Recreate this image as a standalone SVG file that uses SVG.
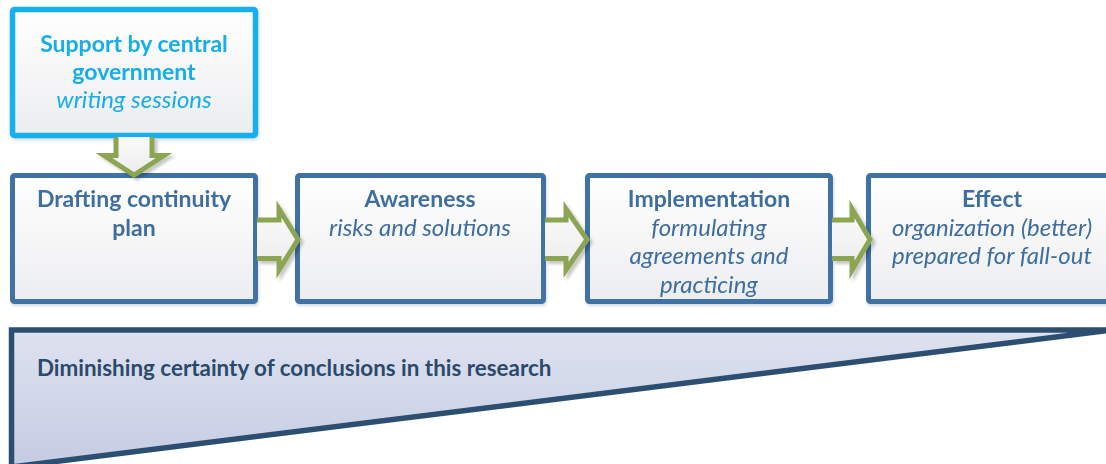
<svg xmlns="http://www.w3.org/2000/svg" width="1106" height="464" viewBox="0 0 1106 464">
<style>
.box{fill:url(#boxfill);stroke:#3F72A6;stroke-width:5}
.top{fill:url(#boxfill);stroke:#12B0EE;stroke-width:5.5}
.t{font-family:Lato,"Liberation Sans",sans-serif;font-size:23px;text-anchor:middle;fill:#3E6E9F}
.b{font-weight:bold}
.i{font-style:italic;font-size:24px}
.cy{fill:#14AEEA}
.afill{fill:url(#arrfill);stroke:none}
.astroke{fill:none;stroke:#8CA553;stroke-width:5;stroke-linejoin:miter}
.btxt{font-family:Lato,"Liberation Sans",sans-serif;font-size:22.4px;font-weight:bold;fill:#2B4A6B}
</style>
<defs>
<linearGradient id="boxfill" x1="0" y1="0" x2="0" y2="1">
<stop offset="0" stop-color="#FFFFFF"/>
<stop offset="1" stop-color="#ECEDEF"/>
</linearGradient>
<linearGradient id="arrfill" x1="0" y1="0" x2="0" y2="1">
<stop offset="0" stop-color="#FAFAFA"/>
<stop offset="1" stop-color="#ECECEC"/>
</linearGradient>
<linearGradient id="trifill" x1="0" y1="0" x2="0" y2="1">
<stop offset="0" stop-color="#DEE2F0"/>
<stop offset="1" stop-color="#C5CCE3"/>
</linearGradient>
<filter id="sh" x="-20%" y="-20%" width="150%" height="150%">
<feDropShadow dx="3" dy="3" stdDeviation="1.5" flood-color="#000" flood-opacity="0.22"/>
</filter>
<filter id="bsh" x="-5%" y="-5%" width="110%" height="115%">
<feDropShadow dx="1" dy="2" stdDeviation="1.5" flood-color="#000" flood-opacity="0.15"/>
</filter>
</defs>

<g id="certainty">
<path d="M11.5,330 H1112 L11.5,467 Z" fill="url(#trifill)" stroke="#2C4E70" stroke-width="5.5" stroke-linejoin="miter"/>
<text class="btxt" x="37" y="376">Diminishing certainty of conclusions in this research</text>
</g>

<g id="support" filter="url(#bsh)">
<rect class="top" x="12.5" y="9.5" width="243" height="126" rx="2"/>
<text class="t b cy" x="134" y="52">Support by central</text>
<text class="t b cy" x="134" y="80">government</text>
<text class="t i cy" x="134" y="108">writing sessions</text>
</g>

<g id="drafting" filter="url(#bsh)">
<rect class="box" x="12.5" y="175.5" width="243" height="126" rx="2"/>
<text class="t b" x="134" y="207">Drafting continuity</text>
<text class="t b" x="134" y="236">plan</text>
</g>

<g id="awareness" filter="url(#bsh)">
<rect class="box" x="297.5" y="175.5" width="246" height="126" rx="2"/>
<text class="t b" x="420" y="207">Awareness</text>
<text class="t i" x="420" y="236">risks and solutions</text>
</g>

<g id="implementation" filter="url(#bsh)">
<rect class="box" x="587.5" y="175.5" width="243" height="126" rx="2"/>
<text class="t b" x="709" y="207">Implementation</text>
<text class="t i" x="709" y="236">formulating</text>
<text class="t i" x="709" y="264">agreements and</text>
<text class="t i" x="709" y="293">practicing</text>
</g>

<g id="effect" filter="url(#bsh)">
<rect class="box" x="868.5" y="175.5" width="260" height="126" rx="2"/>
<text class="t b" x="992" y="207">Effect</text>
<text class="t i" x="992" y="236">organization (better)</text>
<text class="t i" x="992" y="264">prepared for fall-out</text>
</g>

<g id="connectors">
<g filter="url(#sh)">
<path class="afill" d="M116,137 V155.5 H104 L134,175 L164,155.5 H152 V137 Z"/>
<path class="astroke" d="M116,137 V155.5 H104 L134,175 L164,155.5 H152 V137"/>
</g>
<g filter="url(#sh)">
<path class="afill" d="M257,220 H279 V209 L298,239.5 L279,270 V258.5 H257 Z"/>
<path class="astroke" d="M257,220 H279 V209 L298,239.5 L279,270 V258.5 H257"/>
</g>
<g filter="url(#sh)">
<path class="afill" d="M545,220 H566 V209 L587,239.5 L566,270 V258.5 H545 Z"/>
<path class="astroke" d="M545,220 H566 V209 L587,239.5 L566,270 V258.5 H545"/>
</g>
<g filter="url(#sh)">
<path class="afill" d="M832,220 H852 V209 L870,239.5 L852,270 V258.5 H832 Z"/>
<path class="astroke" d="M832,220 H852 V209 L870,239.5 L852,270 V258.5 H832"/>
</g>
</g>
</svg>
